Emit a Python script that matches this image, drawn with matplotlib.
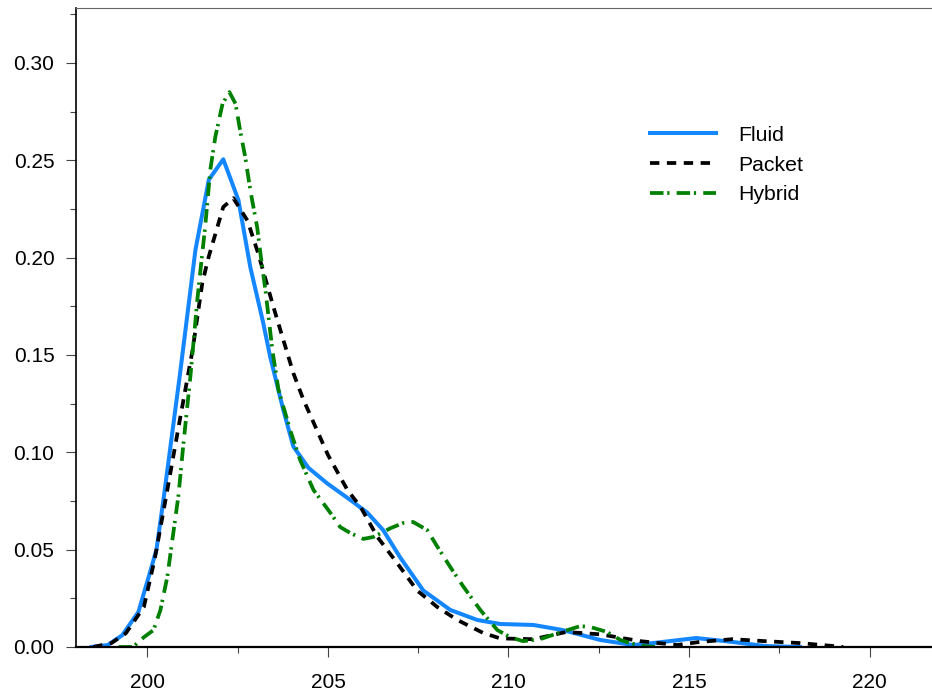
import matplotlib
matplotlib.use('Agg')
import matplotlib.pyplot as plt
from matplotlib.ticker import MultipleLocator, FormatStrFormatter

# values
fluid_x = [198.45, 198.9, 199.3, 199.75, 200.05, 200.25, 200.45, 200.9, 201.33, 201.7,
           202.1, 202.52, 202.85, 203.2, 203.4, 203.76, 204.04, 204.46, 204.98, 205.62,
           206.09, 206.53, 207.0, 207.64, 208.39, 209.13, 209.77, 210.69, 211.5, 212.54,
           213.45, 214.0, 215.2, 216.2, 217.1, 218.07]
fluid_y = [0.0, 0.001, 0.006, 0.018, 0.037, 0.050, 0.0765, 0.14, 0.204, 0.240,
           0.2505, 0.2295, 0.195, 0.167, 0.149, 0.122, 0.103, 0.092, 0.084, 0.0755,
           0.069, 0.060, 0.046, 0.029, 0.019, 0.0139, 0.0118, 0.0113, 0.0087, 0.0036,
           0.001, 0.002, 0.0046, 0.0026, 0.0005, 0.0]

packet_x = [198.5, 199.0, 199.4, 199.9, 200.2, 200.55, 200.91, 201.25, 201.52, 201.69,
            202.1, 202.38, 202.77, 203.07, 203.49, 204.04, 204.32, 205.0, 205.54, 205.9,
            206.37, 206.92, 207.47, 208.03, 208.58, 209.3, 209.77, 210.69, 211.6, 212.54,
            213.65, 214.67, 215.3, 216.2, 217.1, 218.07, 218.99, 219.27]
packet_y = [0.0, 0.002, 0.007, 0.0205, 0.045, 0.0806, 0.118, 0.1525, 0.187, 0.200,
            0.226, 0.2305, 0.219, 0.202, 0.1746, 0.1407, 0.127, 0.0986, 0.0806, 0.072,
            0.0565, 0.043, 0.029, 0.0205, 0.0139, 0.0072, 0.0044, 0.004, 0.0077, 0.0065,
            0.003, 0.001, 0.0026, 0.004, 0.003, 0.002, 0.0005, 0.0]

hybrid_x = [199.2, 199.6, 199.9, 200.17, 200.36, 200.55, 200.86, 201.0, 201.19, 201.38,
            201.5, 201.6, 201.74, 201.88, 202.08, 202.27, 202.44, 202.57, 202.71, 202.85,
            203.04, 203.13, 203.27, 203.46, 203.63, 203.96, 204.23, 204.6, 205.07, 205.34,
            205.62, 205.98, 206.26, 206.73, 207.09, 207.36, 207.75, 208.03, 208.39, 208.75,
            209.22, 209.69, 210.05, 210.4, 210.88, 211.35, 211.98, 212.26, 212.73, 213.1,
            213.37, 213.73, 214.06]
hybrid_y = [0.0, 0.0, 0.005, 0.0087, 0.019, 0.036, 0.078, 0.105, 0.139, 0.178,
            0.199, 0.216, 0.245, 0.262, 0.279, 0.285, 0.279, 0.265, 0.2515, 0.2345,
            0.2155, 0.202, 0.183, 0.1525, 0.132, 0.111, 0.096, 0.0806, 0.0688, 0.0616,
            0.0585, 0.0555, 0.0565, 0.061, 0.0637, 0.0642, 0.060, 0.0515, 0.041, 0.031,
            0.019, 0.0087, 0.005, 0.003, 0.004, 0.007, 0.0107, 0.0103, 0.0077, 0.0036,
            0.002, 0.0005, 0.0]

plt.rcParams['font.family'] = ['Liberation Sans', 'DejaVu Sans']

fig = plt.figure(figsize=(9.32, 6.98), dpi=100)
ax = fig.add_axes([0.0815, 0.0731, 1.0 - 0.0815, 0.988 - 0.0731])

ax.plot(fluid_x, fluid_y, color='#1487ff', lw=2.9, label='Fluid', solid_joinstyle='round')
ax.plot(packet_x, packet_y, color='black', lw=2.7, dashes=(2.5, 2.0), label='Packet')
ax.plot(hybrid_x, hybrid_y, color='#008000', lw=2.7, dashes=(3.6, 1.0, 0.6, 1.9), label='Hybrid')

ax.set_xlim(198.02, 221.73)
ax.set_ylim(0, 0.328)

ax.xaxis.set_major_locator(MultipleLocator(5))
ax.xaxis.set_minor_locator(MultipleLocator(2.5))
ax.yaxis.set_major_locator(MultipleLocator(0.05))
ax.yaxis.set_minor_locator(MultipleLocator(0.025))
ax.yaxis.set_major_formatter(FormatStrFormatter('%.2f'))

ax.spines['right'].set_visible(False)
ax.spines['top'].set_color('#666666')
ax.spines['top'].set_linewidth(0.8)
ax.spines['left'].set_linewidth(1.2)
ax.spines['bottom'].set_linewidth(1.6)

ax.tick_params(axis='both', which='major', direction='out', length=7.5, width=0.8,
               labelsize=15, color='#444444')
ax.tick_params(axis='both', which='minor', direction='out', length=4, width=0.8, color='#444444')
ax.tick_params(axis='x', which='major', pad=11)
ax.tick_params(axis='y', which='major', pad=8)
ax.tick_params(top=False, right=False, which='both')

ax.legend(loc='upper left', bbox_to_anchor=(0.6706, 0.816), frameon=False,
          fontsize=15.3, handlelength=3.1, handletextpad=1.05, labelspacing=0.5,
          borderpad=0, borderaxespad=0)

fig.savefig('out.png', dpi=100)
